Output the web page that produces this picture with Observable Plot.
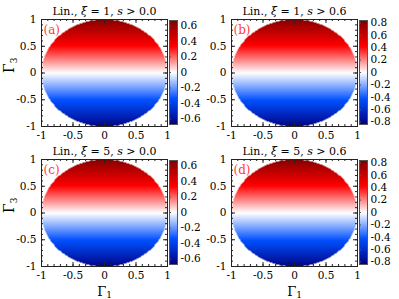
<!DOCTYPE html>
<html><head><meta charset="utf-8">
<script src="https://cdn.jsdelivr.net/npm/d3@7"></script>
<script src="https://cdn.jsdelivr.net/npm/@observablehq/plot@0.6"></script>
<style>
body{margin:0;background:#fff}
#chart{position:relative;width:399px;height:299px;overflow:hidden;font-family:"DejaVu Serif",serif}
#chart svg{position:absolute;max-width:none}
#chart svg, #chart svg text, #chart svg tspan{font-family:"DejaVu Serif",serif !important}
#chart svg text{white-space:pre}
</style></head><body><div id="chart"></div>
<script>
// ---- data ----
const panelLabels = ["(a)", "(b)", "(c)", "(d)"];
const xiValues = ["1", "1", "5", "5"];
const sThresholds = ["0.0", "0.6", "0.0", "0.6"];
// field value (colour) sampled along Γ3 for each panel (it varies only with Γ3)
const gamma3Samples = [-1, -0.5, 0, 0.5, 1];
const fieldA = [-0.65, -0.33, 0, 0.33, 0.65];
const fieldB = [-0.82, -0.41, 0, 0.41, 0.82];
const fieldC = [-0.65, -0.33, 0, 0.33, 0.65];
const fieldD = [-0.82, -0.41, 0, 0.41, 0.82];
const colorbarMax = [0.67, 0.84, 0.67, 0.84];
const colorTicksSmall = [-0.6, -0.4, -0.2, 0, 0.2, 0.4, 0.6];
const colorTicksLarge = [-0.8, -0.6, -0.4, -0.2, 0, 0.2, 0.4, 0.6, 0.8];
const axisTicks = [-1, -0.5, 0, 0.5, 1];
const axisTickLabels = ["-1", "-0.5", "0", "0.5", "1"];
const minorTicks = [-1, -0.9, -0.8, -0.7, -0.6, -0.5, -0.4, -0.3, -0.2, -0.1, 0, 0.1, 0.2, 0.3, 0.4, 0.5, 0.6, 0.7, 0.8, 0.9, 1];
const cmapColors = ["#000080", "#0050ff", "#ffffff", "#ff0000", "#800000"];

const fields = [fieldA, fieldB, fieldC, fieldD];
const colorTicks = [colorTicksSmall, colorTicksLarge, colorTicksSmall, colorTicksLarge];
const chart = document.getElementById("chart");
const FONT = "'DejaVu Serif', serif";
const tickFmt = d => axisTickLabels[axisTicks.indexOf(d)];

function place(svg, left, top) {
  svg.style.left = left + "px";
  svg.style.top = top + "px";
  svg.querySelectorAll("text").forEach(t => t.setAttribute("font-family", FONT));
  chart.appendChild(svg);
}

function panel(i) {
  const col = i % 2, row = Math.floor(i / 2);
  const ox = col * 190, oy = row * 140;
  const m = colorbarMax[i];
  const field = d3.scaleLinear(gamma3Samples, fields[i]);
  const color = {type: "linear", domain: [-m, -m / 2, 0, m / 2, m], range: cmapColors};
  const W = 126, H = 107, ink = "#222";
  const marks = [
    Plot.raster({x1: -1, x2: 1, y1: -1, y2: 1, fill: (x, y) => (x * x + y * y <= 1 ? field(y) : NaN)}),
    Plot.frame({stroke: ink}),
    Plot.ruleX(minorTicks, {insetTop: H - 2, stroke: ink}),
    Plot.ruleX(minorTicks, {insetBottom: H - 2, stroke: ink}),
    Plot.ruleY(minorTicks, {insetRight: W - 2, stroke: ink}),
    Plot.ruleY(minorTicks, {insetLeft: W - 2, stroke: ink}),
    Plot.ruleX(axisTicks, {insetTop: H - 4, stroke: ink}),
    Plot.ruleX(axisTicks, {insetBottom: H - 4, stroke: ink}),
    Plot.ruleY(axisTicks, {insetRight: W - 4, stroke: ink}),
    Plot.ruleY(axisTicks, {insetLeft: W - 4, stroke: ink}),
    Plot.axisX(axisTicks, {tickSize: 0, tickPadding: 5, tickFormat: tickFmt, label: null, fill: "#000"}),
    Plot.axisY(axisTicks, {tickSize: 0, tickPadding: 5, tickFormat: tickFmt, label: null, fill: "#000"}),
    Plot.text([`Lin., ξ = ${xiValues[i]}, s > ${sThresholds[i]}`], {frameAnchor: "top", lineAnchor: "middle", dy: -8, fontSize: 11, fill: "#000"}),
    Plot.text([panelLabels[i]], {frameAnchor: "top-left", lineAnchor: "middle", dx: 2, dy: 11, textAnchor: "start", fontSize: 12, fill: "#ff3b3b"})
  ];
  if (col === 0) marks.push(Plot.text(["Γ3"], {frameAnchor: "left", lineAnchor: "middle", dx: -32, rotate: -90, fontSize: 14, fill: "#000"}));
  if (row === 1) marks.push(Plot.text(["Γ1"], {frameAnchor: "bottom", lineAnchor: "middle", dy: 25, fontSize: 13, fill: "#000"}));
  const svg = Plot.plot({
    width: 170, height: 160,
    marginLeft: 41, marginRight: 3, marginTop: 19, marginBottom: 34,
    x: {domain: [-1, 1], axis: null},
    y: {domain: [-1, 1], axis: null},
    color,
    style: {fontFamily: FONT, fontSize: "10.5px", background: "transparent", overflow: "visible"},
    marks
  });
  // rich text: italic symbols and subscripts
  d3.select(svg).selectAll("text").each(function () {
    const t = this.textContent;
    const sel = d3.select(this);
    if (t.startsWith("Lin.")) {
      sel.text(null);
      sel.append("tspan").text("Lin., ");
      sel.append("tspan").attr("font-style", "italic").text("ξ");
      sel.append("tspan").text(` = ${xiValues[i]}, `);
      sel.append("tspan").attr("font-style", "italic").text("s");
      sel.append("tspan").text(` > ${sThresholds[i]}`);
    } else if (t === "Γ1" || t === "Γ3") {
      sel.text(null);
      sel.append("tspan").text("Γ");
      sel.append("tspan").attr("font-size", "9px").attr("dy", t === "Γ1" ? "2" : "3").text(t.slice(1));
    }
  });
  place(svg, ox, oy);

  // colour bar
  const cb = Plot.plot({
    width: 60, height: 130,
    marginLeft: 2, marginRight: 50, marginTop: 20, marginBottom: 6,
    x: {domain: [0, 1], axis: null},
    y: {domain: [-m, m], axis: null},
    color,
    style: {fontFamily: FONT, fontSize: "10.5px", background: "transparent", overflow: "visible"},
    marks: [
      Plot.raster({x1: 0, x2: 1, y1: -m, y2: m, fill: (x, y) => y}),
      Plot.frame({stroke: "#555"}),
      Plot.ruleY(colorTicks[i], {insetRight: 6, stroke: "#555"}),
      Plot.axisY(colorTicks[i], {anchor: "right", tickSize: 0, tickPadding: 3, tickFormat: d => String(d), label: null, fill: "#000"})
    ]
  });
  place(cb, ox + 167, oy);
}

[0, 1, 2, 3].forEach(panel);
</script></body></html>
